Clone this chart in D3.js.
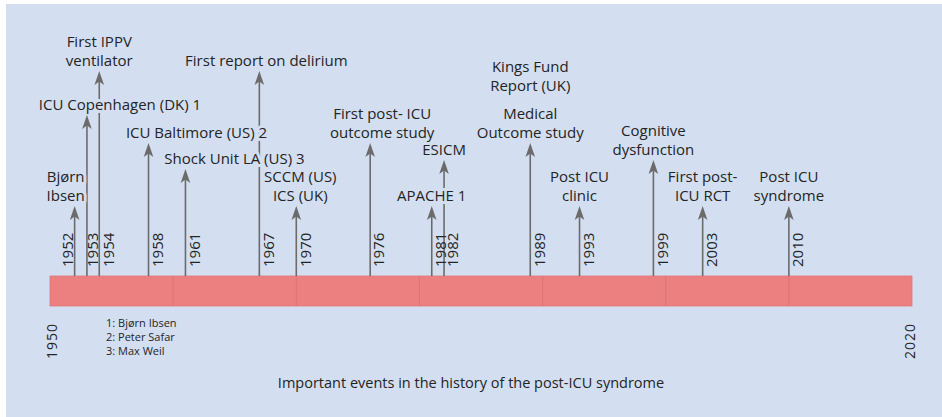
<!DOCTYPE html>
<html>
<head>
<meta charset="utf-8">
<script src="https://cdn.jsdelivr.net/npm/d3@7"></script>
<style>
  body { margin: 0; background: #fff; }
  svg text { font-family: "Open Sans", "Noto Sans", sans-serif; fill: #242424; }
</style>
</head>
<body>
<script>
// DATA
var years = [1952, 1953, 1954, 1958, 1961, 1967, 1970, 1976, 1981, 1982, 1989, 1993, 1999, 2003, 2010];
var labels = [
  ["Bjørn", "Ibsen"],
  ["ICU Copenhagen (DK) 1"],
  ["First IPPV", "ventilator"],
  ["ICU Baltimore (US) 2"],
  ["Shock Unit LA (US) 3"],
  ["First report on delirium"],
  ["SCCM (US)", "ICS (UK)"],
  ["First post- ICU", "outcome study"],
  ["APACHE 1"],
  ["ESICM"],
  ["Medical", "Outcome study"],
  ["Post ICU", "clinic"],
  ["Cognitive", "dysfunction"],
  ["First post-", "ICU RCT"],
  ["Post ICU", "syndrome"]
];
// stagger tier of each arrow (0 = shortest)
var levels = [0, 4, 5, 3, 1, 5, 0, 3, 0, 2, 3, 0, 2, 0, 0];
// extra text without its own arrow
var noteYears = [1989];
var noteLabels = [["Kings Fund", "Report (UK)"]];
var footnotes = ["1: Bjørn Ibsen", "2: Peter Safar", "3: Max Weil"];
var span = [1950, 2020];
var title = "Important events in the history of the post-ICU syndrome";

var W = 942, H = 417;
var bg = "#d3dff0";
var barTop = 276, barH = 30;
var lineH = 19;

var svg = d3.select("body").append("svg")
    .attr("width", W)
    .attr("height", H);

svg.append("rect")
    .attr("x", 6).attr("y", 4)
    .attr("width", W - 6).attr("height", H - 4)
    .attr("fill", bg);

var x = d3.scaleLinear().domain(span).range([50, 912]);
var tipY = d3.scaleOrdinal().domain([0, 1, 2, 3, 4, 5]).range([206, 169, 160, 143, 115, 71]);

// label nudges where the picture moves the text off the arrow
var labelShift = { 1952: -9, 1953: 33, 1958: 48, 1961: 49, 1967: 7, 1970: 4, 1976: 12 };

var events = years.map(function (y, i) {
    return { year: y, lines: labels[i], level: levels[i] };
});

// BAR
svg.append("rect")
    .attr("x", x(span[0])).attr("y", barTop)
    .attr("width", x(span[1]) - x(span[0])).attr("height", barH)
    .attr("fill", "#ec8080")
    .attr("stroke", "#e07575").attr("stroke-width", 0.8);

svg.selectAll(".decade")
    .data(d3.range(1960, 2020, 10))
    .enter().append("line")
    .attr("x1", d => x(d)).attr("x2", d => x(d))
    .attr("y1", barTop).attr("y2", barTop + barH)
    .attr("stroke", "#d86e6e").attr("stroke-width", 0.8);

// ARROW SHAFTS
svg.selectAll(".shaft")
    .data(events)
    .enter().append("line")
    .attr("x1", d => x(d.year)).attr("x2", d => x(d.year))
    .attr("y1", barTop).attr("y2", d => tipY(d.level) + 4)
    .attr("stroke", "#6b6b6b").attr("stroke-width", 1.6);

// YEAR LABELS
svg.selectAll(".year")
    .data(events)
    .enter().append("text")
    .attr("transform", function (d) {
        var dx = d.year === 1952 ? -7 : d.year === 1953 ? 6 : 9;
        return "translate(" + (x(d.year) + dx) + "," + 267 + ") rotate(-90)";
    })
    .attr("dy", "0.35em")
    .style("font-size", "15px")
    .text(d => d.year);

// EVENT LABELS (with a halo that cuts the shafts running behind)
function drawLabel(g, cx, baseY, lines) {
    var t = g.append("text")
        .attr("text-anchor", "middle")
        .style("font-size", "15px")
        .attr("stroke", bg).attr("stroke-width", 6)
        .attr("stroke-linejoin", "round")
        .attr("paint-order", "stroke");
    lines.forEach(function (s, j) {
        t.append("tspan")
            .attr("x", cx)
            .attr("y", baseY - (lines.length - 1 - j) * lineH)
            .text(s);
    });
}

var lab = svg.append("g");
events.forEach(function (d) {
    var cx = x(d.year) + (labelShift[d.year] || 0);
    drawLabel(lab, cx, tipY(d.level) - 5, d.lines);
});

noteYears.forEach(function (y, i) {
    var ev = events.find(e => e.year === y);
    var top = tipY(ev.level) - 5 - (ev.lines.length - 1) * lineH;
    drawLabel(lab, x(y), top - 28, noteLabels[i]);
});

// ARROW HEADS
svg.selectAll(".head")
    .data(events)
    .enter().append("path")
    .attr("d", "M0,0 L-4.8,14 L0,10.5 L4.8,14 Z")
    .attr("transform", d => "translate(" + x(d.year) + "," + tipY(d.level) + ")")
    .attr("fill", "#6b6b6b");

// END YEARS
svg.selectAll(".end")
    .data(span)
    .enter().append("text")
    .attr("transform", (d, i) => "translate(" + (i === 0 ? 52 : 910) + ",341) rotate(-90)")
    .attr("text-anchor", "middle")
    .attr("dy", "0.35em")
    .style("font-size", "14px")
    .style("letter-spacing", "1px")
    .text(d => d);

// FOOTNOTES
svg.selectAll(".foot")
    .data(footnotes)
    .enter().append("text")
    .attr("x", 106)
    .attr("y", (d, i) => 327 + i * 14)
    .style("font-size", "11px")
    .text(d => d);

svg.append("text")
    .attr("x", 471).attr("y", 388)
    .attr("text-anchor", "middle")
    .style("font-size", "14.5px")
    .text(title);
</script>
</body>
</html>
